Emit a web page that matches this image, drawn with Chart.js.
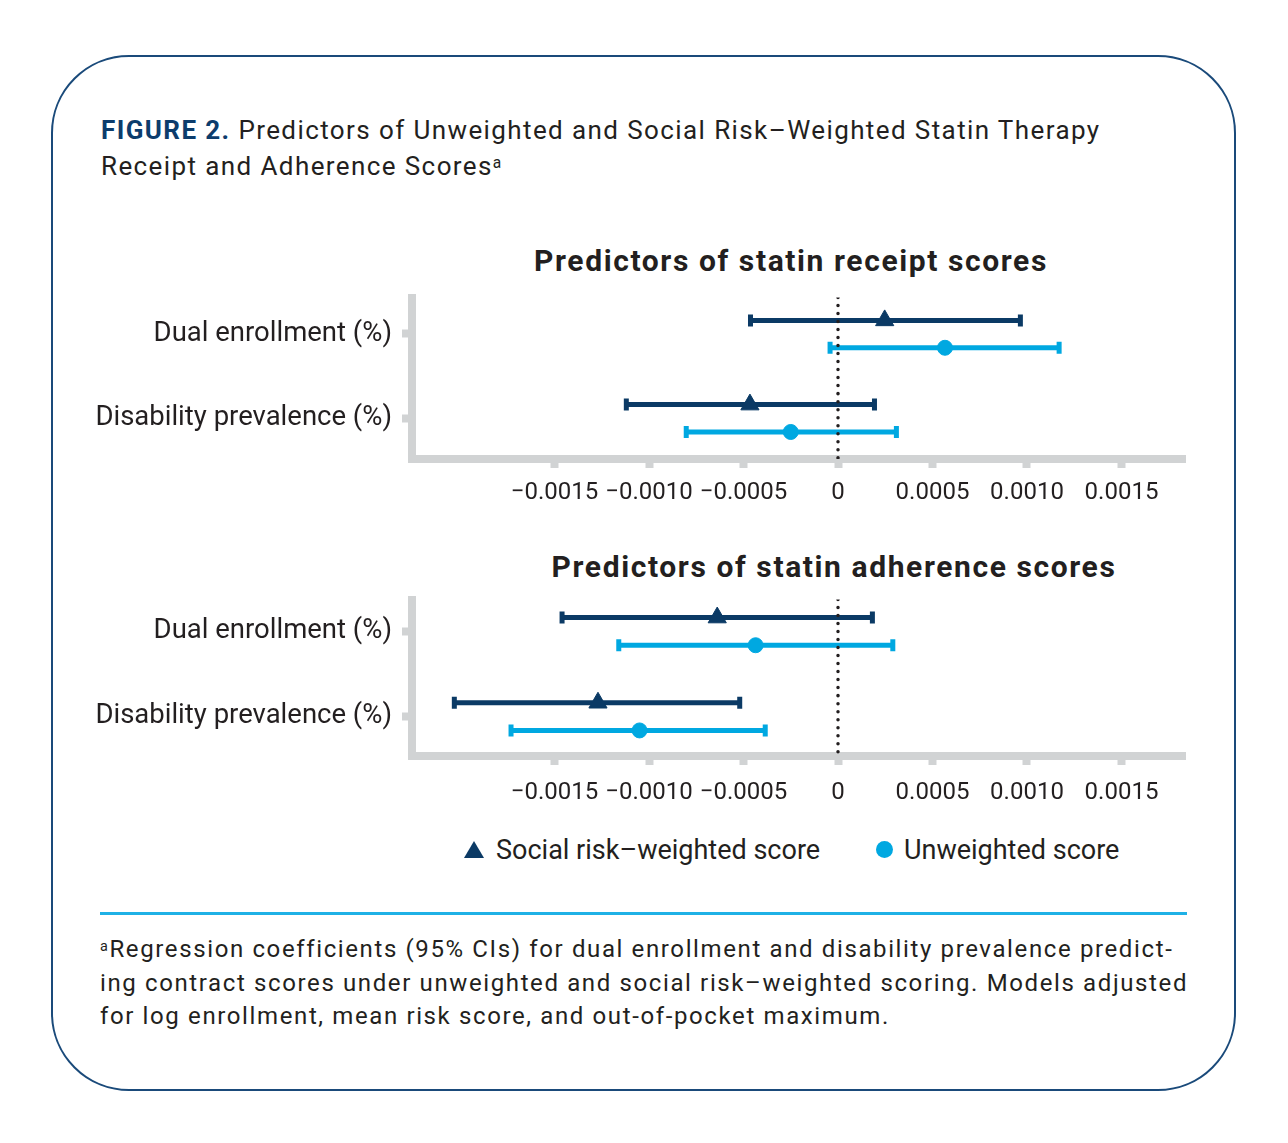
<!DOCTYPE html>
<html>
<head>
<meta charset="utf-8">
<script src="https://cdn.jsdelivr.net/npm/chart.js@4.4.1/dist/chart.umd.min.js"></script>
<style>
  body { margin: 0; width: 1288px; height: 1143px; background: #fff; position: relative; font-family: Roboto, sans-serif; color: #231f20; }
  .box { position: absolute; left: 51px; top: 55px; width: 1185px; height: 1036px; box-sizing: border-box; border: 2.5px solid #1a4a7a; border-radius: 78px; }
  .abs { position: absolute; white-space: nowrap; }
  .title { left: 101px; top: 112px; font-size: 26px; line-height: 36px; letter-spacing: 1.4px; }
  .title b { color: #0c3c6c; }
  .ctitle { font-size: 30px; font-weight: bold; line-height: 34px; text-align: center; width: 800px; letter-spacing: 1.6px; }
  .chart { position: absolute; left: 60px; width: 1150px; height: 224px; }
  .tri { position: absolute; width: 0; height: 0; border-left: 10px solid transparent; border-right: 10px solid transparent; border-bottom: 17px solid #0b3a65; }
  .dot { position: absolute; width: 17px; height: 17px; border-radius: 50%; background: #00a8e1; }
  .leg { font-size: 27px; line-height: 30px; }
  .rule { position: absolute; left: 100px; top: 912px; width: 1087px; height: 3px; background: #1fb1e6; }
  .foot { left: 100px; top: 933px; font-size: 24px; line-height: 33.5px; letter-spacing: 1.62px; }
  sup { font-size: 0.6em; vertical-align: 0.45em; line-height: 0; }
</style>
</head>
<body>
<div class="box"></div>
<div class="abs title"><b>FIGURE 2.</b> Predictors of Unweighted and Social Risk–Weighted Statin Therapy<br>Receipt and Adherence Scores<sup>a</sup></div>

<div class="abs ctitle" style="left:391px; top:244px;">Predictors of statin receipt scores</div>
<div class="chart" style="top:286px;"><canvas id="receipt"></canvas></div>

<div class="abs ctitle" style="left:434px; top:550px;">Predictors of statin adherence scores</div>
<div class="chart" style="top:588px;"><canvas id="adherence"></canvas></div>

<div class="tri" style="left:464px; top:841px;"></div>
<div class="abs leg" id="leg0" style="left:496px; top:835px;"></div>
<div class="dot" style="left:876px; top:841px;"></div>
<div class="abs leg" id="leg1" style="left:904px; top:835px;"></div>

<div class="rule"></div>
<div class="abs foot"><sup>a</sup>Regression coefficients (95% CIs) for dual enrollment and disability prevalence predict-<br>ing contract scores under unweighted and social risk–weighted scoring. Models adjusted<br>for log enrollment, mean risk score, and out-of-pocket maximum.</div>

<script>
// categories and series
const categories = ["Dual enrollment (%)", "Disability prevalence (%)"];
const seriesNames = ["Social risk–weighted score", "Unweighted score"];

// statin receipt scores
const receiptWeighted = [0.000247, -0.000466];
const receiptWeightedLow = [-0.000463, -0.00112];
const receiptWeightedHigh = [0.000965, 0.000193];
const receiptUnweighted = [0.000566, -0.00025];
const receiptUnweightedLow = [-0.000042, -0.000803];
const receiptUnweightedHigh = [0.00117, 0.000309];

// statin adherence scores
const adherenceWeighted = [-0.000639, -0.00127];
const adherenceWeightedLow = [-0.00146, -0.00203];
const adherenceWeightedHigh = [0.000182, -0.00052];
const adherenceUnweighted = [-0.000436, -0.00105];
const adherenceUnweightedLow = [-0.00116, -0.00173];
const adherenceUnweightedHigh = [0.00029, -0.000385];

// x axis ticks
const tickValues = [-0.0015, -0.001, -0.0005, 0, 0.0005, 0.001, 0.0015];
const tickLabels = ["−0.0015", "−0.0010", "−0.0005", "0", "0.0005", "0.0010", "0.0015"];

document.getElementById("leg0").textContent = seriesNames[0];
document.getElementById("leg1").textContent = seriesNames[1];

const navy = "#0b3a65";
const cyan = "#00a8e1";
const grey = "#d1d3d4";

function ciLines(lows, highs, shift, color) {
    return lows.map(function(lo, i) {
        return {
            type: "line",
            data: [{x: lo, y: i + 1 + shift}, {x: highs[i], y: i + 1 + shift}],
            borderColor: color,
            borderWidth: 5,
            pointStyle: "line",
            rotation: 90,
            pointRadius: 6,
            pointBorderWidth: 5,
            pointBorderColor: color,
            order: 2
        };
    });
}

function markers(values, shift, color, style, radius, label) {
    return {
        type: "scatter",
        label: label,
        data: values.map(function(v, i) { return {x: v, y: i + 1 + shift}; }),
        pointStyle: style,
        pointRadius: radius,
        backgroundColor: color,
        borderColor: color,
        borderWidth: 1,
        order: 0
    };
}

function dibujar(id, w, wl, wh, u, ul, uh, yMin, yMax, xHeight, labelPad) {
    const datasets = []
        .concat(ciLines(wl, wh, -0.16, navy))
        .concat(ciLines(ul, uh, 0.165, cyan));

    // dotted line at zero
    datasets.push({
        type: "line",
        data: [{x: 0, y: yMin}, {x: 0, y: yMax}],
        borderColor: "#231f20",
        borderWidth: 3.5,
        borderDash: [0.01, 8],
        borderCapStyle: "round",
        pointRadius: 0,
        order: 1
    });

    datasets.push(markers(w, -0.16, navy, "triangle", 10.5, seriesNames[0]));
    datasets.push(markers(u, 0.165, cyan, "circle", 7.5, seriesNames[1]));

    new Chart(document.getElementById(id), {
        type: "scatter",
        data: { datasets: datasets },
        options: {
            responsive: true,
            maintainAspectRatio: false,
            animation: false,
            layout: { padding: { top: 10, right: 25, left: 0, bottom: 0 } },
            plugins: { legend: { display: false }, tooltip: { enabled: false } },
            scales: {
                x: {
                    type: "linear",
                    min: -0.002254,
                    max: 0.001836,
                    afterBuildTicks: function(scale) {
                        scale.ticks = tickValues.map(function(v) { return {value: v}; });
                    },
                    afterFit: function(scale) {
                        scale.height = xHeight;
                        scale.paddingLeft = 0;
                        scale.paddingRight = 0;
                    },
                    border: { display: true, color: grey, width: 8 },
                    grid: { drawOnChartArea: false, drawTicks: true, tickLength: 9, tickWidth: 8, tickColor: grey },
                    ticks: {
                        autoSkip: false,
                        maxRotation: 0,
                        padding: labelPad,
                        color: "#231f20",
                        font: { family: "Roboto, sans-serif", size: 24 },
                        callback: function(value) {
                            const k = tickValues.indexOf(value);
                            return k >= 0 ? tickLabels[k] : "";
                        }
                    }
                },
                y: {
                    type: "linear",
                    reverse: true,
                    min: yMin,
                    max: yMax,
                    afterBuildTicks: function(scale) {
                        scale.ticks = categories.map(function(c, i) { return {value: i + 1}; });
                    },
                    afterFit: function(scale) {
                        scale.width = 352;
                        scale.paddingTop = 0;
                        scale.paddingBottom = 0;
                    },
                    border: { display: true, color: grey, width: 8 },
                    grid: { drawOnChartArea: false, drawTicks: true, tickLength: 10, tickWidth: 8, tickColor: grey },
                    ticks: {
                        padding: 10,
                        color: "#231f20",
                        font: { family: "Roboto, sans-serif", size: 27.5 },
                        callback: function(value) {
                            return categories[value - 1] || "";
                        }
                    }
                }
            }
        }
    });
}

dibujar("receipt", receiptWeighted, receiptWeightedLow, receiptWeightedHigh,
    receiptUnweighted, receiptUnweightedLow, receiptUnweightedHigh, 0.568, 2.486, 51, 11);

dibujar("adherence", adherenceWeighted, adherenceWeightedLow, adherenceWeightedHigh,
    adherenceUnweighted, adherenceUnweightedLow, adherenceUnweightedHigh, 0.628, 2.465, 56, 14);
</script>
</body>
</html>
